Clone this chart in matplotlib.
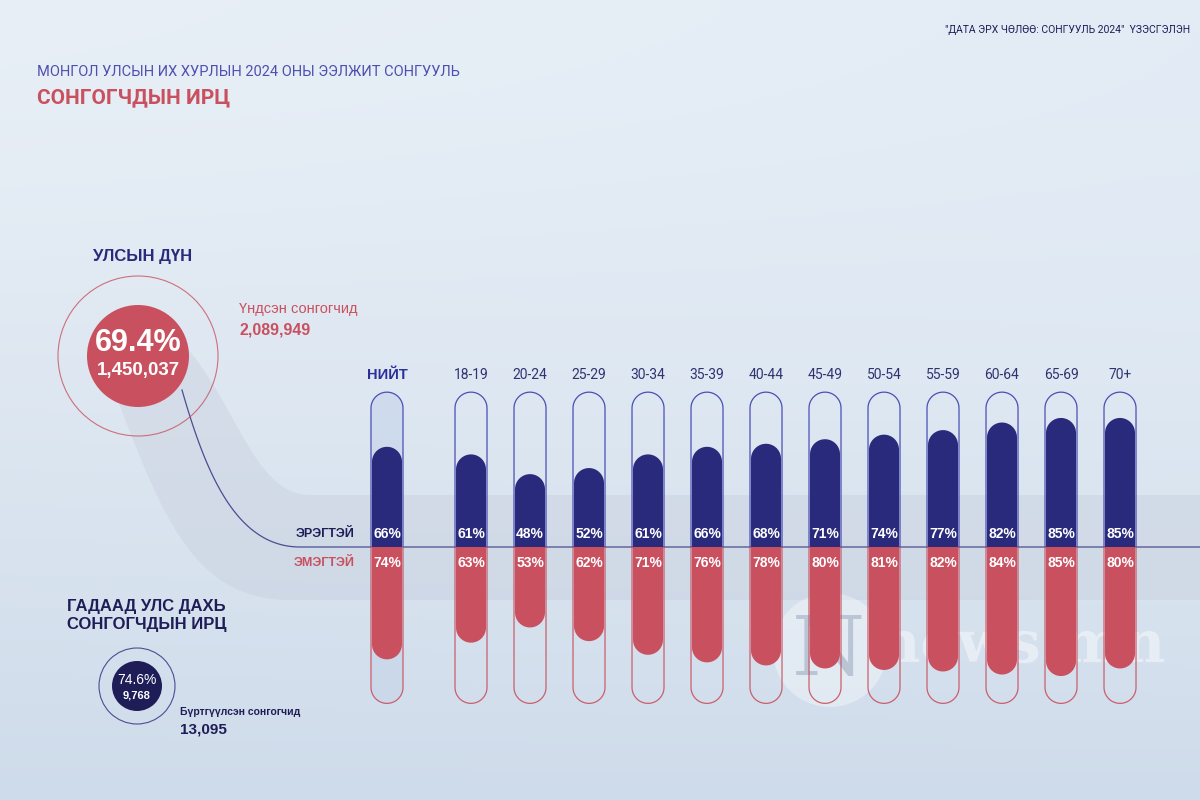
import numpy as np
import matplotlib
matplotlib.use("Agg")
import matplotlib.pyplot as plt
from matplotlib.patches import Circle, Polygon

# ---------------- data ----------------
groups = ["НИЙТ", "18-19", "20-24", "25-29", "30-34", "35-39", "40-44",
          "45-49", "50-54", "55-59", "60-64", "65-69", "70+"]
male = [66, 61, 48, 52, 61, 66, 68, 71, 74, 77, 82, 85, 85]
female = [74, 63, 53, 62, 71, 76, 78, 80, 81, 82, 84, 85, 80]

title_top = "МОНГОЛ УЛСЫН ИХ ХУРЛЫН 2024 ОНЫ ЭЭЛЖИТ СОНГУУЛЬ"
title_main = "СОНГОГЧДЫН ИРЦ"
exhibit = "\"ДАТА ЭРХ ЧӨЛӨӨ: СОНГУУЛЬ 2024\"  ҮЗЭСГЭЛЭН"
national_label = "УЛСЫН ДҮН"
national_pct = "69.4%"
national_votes = "1,450,037"
base_voters_label = "Үндсэн сонгогчид"
base_voters = "2,089,949"
abroad_label = ["ГАДААД УЛС ДАХЬ", "СОНГОГЧДЫН ИРЦ"]
abroad_pct = "74.6%"
abroad_votes = "9,768"
registered_label = "Бүртгүүлсэн сонгогчид"
registered = "13,095"
male_label = "ЭРЭГТЭЙ"
female_label = "ЭМЭГТЭЙ"

NAVY = "#2a2a7c"
DARKNAVY = "#1f1d58"
RED = "#c9515f"
TITLEBLUE = "#4f4fb0"
NARROW = ['Roboto', 'DejaVu Sans']

plt.rcParams['font.family'] = ['Liberation Sans', 'DejaVu Sans']

fig = plt.figure(figsize=(12, 8), dpi=100)

# ---------- background / decoration axes (pixel coordinates) ----------
bg = fig.add_axes([0, 0, 1, 1])
bg.set_xlim(0, 1200)
bg.set_ylim(800, 0)
bg.axis("off")

yy, xx = np.mgrid[0:1:200j, 0:1:300j]
top = np.array([232, 239, 246]) / 255
bot = np.array([206, 219, 234]) / 255
right = np.array([222, 233, 245]) / 255
t = (yy ** 1.3)[..., None]
s = (xx * (1 - yy))[..., None]
img = top * (1 - t) + bot * t
img = img * (1 - 0.5 * s) + right * 0.5 * s
bg.imshow(img, extent=[0, 1200, 800, 0], aspect="auto", zorder=0)

# soft band from circle to the bars
tt = np.linspace(0, 1, 80)
def bez(p0, p1, p2, p3, u):
    u = u[:, None]
    return ((1 - u) ** 3 * np.array(p0) + 3 * (1 - u) ** 2 * u * np.array(p1)
            + 3 * (1 - u) * u ** 2 * np.array(p2) + u ** 3 * np.array(p3))

upper = bez((170, 330), (235, 390), (250, 495), (310, 495), tt)
lower = bez((110, 380), (160, 510), (190, 600), (290, 600), tt)
band = np.vstack([upper, [[1200, 495], [1200, 600]], lower[::-1]])
bg.add_patch(Polygon(band, closed=True, facecolor="#c3cad8", alpha=0.35,
                     edgecolor="none", zorder=1))

# thin navy connecting line
cl = bez((182, 390), (205, 470), (235, 547), (300, 547), tt)
lx = np.concatenate([cl[:, 0], [1200]])
ly = np.concatenate([cl[:, 1], [547]])
bg.plot(lx, ly, color=NAVY, lw=0.9, alpha=0.8, zorder=2)

# titles
bg.text(37, 72, title_top, fontsize=10.5, color=TITLEBLUE, family=NARROW,
        va="center", ha="left")
bg.text(37, 98, title_main, fontsize=15, color=RED, fontweight="bold",
        family=NARROW, va="center", ha="left")
bg.text(1190, 30, exhibit, fontsize=7.5, color=DARKNAVY, family=NARROW,
        va="center", ha="right")

# national total circle
bg.text(143, 256, national_label, fontsize=12, color=NAVY, fontweight="bold",
        ha="center", va="center")
bg.add_patch(Circle((138, 356), 80, facecolor="none", edgecolor=RED, lw=0.8,
                    alpha=0.8, zorder=3))
bg.add_patch(Circle((138, 356), 51, facecolor=RED, edgecolor="none", zorder=4))
bg.text(138, 343, national_pct, fontsize=22, color="white", fontweight="bold",
        ha="center", va="center", zorder=5)
bg.text(138, 371, national_votes, fontsize=13.5, color="white", fontweight="bold",
        ha="center", va="center", zorder=5)
bg.text(239, 309, base_voters_label, fontsize=10.5, color=RED,
        ha="left", va="center")
bg.text(239, 330, base_voters, fontsize=11.5, color=RED, fontweight="bold",
        ha="left", va="center")

# abroad circle
bg.text(67, 606, abroad_label[0], fontsize=12, color=DARKNAVY, fontweight="bold",
        ha="left", va="center")
bg.text(67, 624, abroad_label[1], fontsize=12, color=DARKNAVY, fontweight="bold",
        ha="left", va="center")
bg.add_patch(Circle((137, 686), 38, facecolor="none", edgecolor=NAVY, lw=0.8,
                    alpha=0.8, zorder=3))
bg.add_patch(Circle((137, 686), 25, facecolor=DARKNAVY, edgecolor="none", zorder=4))
bg.text(137, 680, abroad_pct, fontsize=10, color="white",
        ha="center", va="center", zorder=5)
bg.text(137, 695, abroad_votes, fontsize=8, color="white", fontweight="bold",
        ha="center", va="center", zorder=5)
bg.text(180, 712, registered_label, fontsize=7.5, color=DARKNAVY, fontweight="bold",
        ha="left", va="center")
bg.text(180, 730, registered, fontsize=11, color=DARKNAVY, fontweight="bold",
        ha="left", va="center")

# ---------------- bars axes ----------------
W, H = 1200, 800
px_left, px_right = 330, 1160
px_top, px_bot = 380, 714
ax = fig.add_axes([px_left / W, 1 - px_bot / H, (px_right - px_left) / W,
                   (px_bot - px_top) / H])
ax.set_facecolor("none")
ax.axis("off")

n = len(groups)
xpos = np.array([0.0] + list(1.424 + np.arange(n - 1)))
ax.set_xlim(-0.966, -0.966 + (px_right - px_left) / 59.0)
ax.set_ylim(-110, 110)

x_px = (px_right - px_left) / (ax.get_xlim()[1] - ax.get_xlim()[0])
y_px = (px_bot - px_top) / (ax.get_ylim()[1] - ax.get_ylim()[0])

fill_hw = 15 / x_px
out_hw = 16 / x_px
ang = np.linspace(0, np.pi, 40)

def half_capsule(cx, hw, v, sign):
    ry = hw * x_px / y_px
    core = v - ry
    xs = cx + hw * np.cos(ang)
    ys = sign * (core + ry * np.sin(ang))
    pts = [(cx + hw, 0)] + list(zip(xs, ys)) + [(cx - hw, 0)]
    return np.array(pts)

outline_v = 102
for i, cx in enumerate(xpos):
    up = half_capsule(cx, out_hw, outline_v, 1)
    dn = half_capsule(cx, out_hw, outline_v + 1, -1)
    if i == 0:
        full = np.vstack([up, dn[::-1]])
        ax.add_patch(Polygon(full, closed=True, facecolor="#c6d4ea", alpha=0.6,
                             edgecolor="none", zorder=1))
    ax.plot(up[:, 0], up[:, 1], color="#4a4fb5", lw=0.9, zorder=2)
    ax.plot(dn[:, 0], dn[:, 1], color=RED, lw=0.9, alpha=0.9, zorder=2)
    ax.add_patch(Polygon(half_capsule(cx, fill_hw, male[i], 1), closed=True,
                         facecolor=NAVY, edgecolor="none", zorder=3))
    ax.add_patch(Polygon(half_capsule(cx, fill_hw, female[i], -1), closed=True,
                         facecolor=RED, edgecolor="none", zorder=3))
    ax.text(cx, 8.5, f"{male[i]}%", color="white", fontsize=10, fontweight="bold",
            ha="center", va="center", zorder=4)
    ax.text(cx, -10.5, f"{female[i]}%", color="white", fontsize=10,
            fontweight="bold", ha="center", va="center", zorder=4)
    if i == 0:
        ax.text(cx, 113, groups[i], fontsize=10.5, color="#2b2f9a",
                fontweight="bold", ha="center", va="center", zorder=4,
                clip_on=False)
    else:
        ax.text(cx, 113, groups[i], fontsize=10, color="#2f3470",
                family=NARROW, ha="center", va="center", zorder=4,
                clip_on=False)

ax.text(xpos[0] - 0.55, 8.5, male_label, color=DARKNAVY, fontsize=9,
        fontweight="bold", ha="right", va="center")
ax.text(xpos[0] - 0.55, -10.5, female_label, color=RED, fontsize=9,
        fontweight="bold", ha="right", va="center")

# watermark
bg.add_patch(Circle((830, 650), 57, facecolor="white", alpha=0.35,
                    edgecolor="none", zorder=6))
bg.text(828, 652, "N", fontsize=60, family="DejaVu Serif", color="#9fadc2",
        alpha=0.6, ha="center", va="center", zorder=7)
bg.text(878, 646, "news.mn", fontsize=42, family="DejaVu Serif", fontweight="bold",
        color="white", alpha=0.45, ha="left", va="center", zorder=7)

fig.savefig("out.png", dpi=100)
